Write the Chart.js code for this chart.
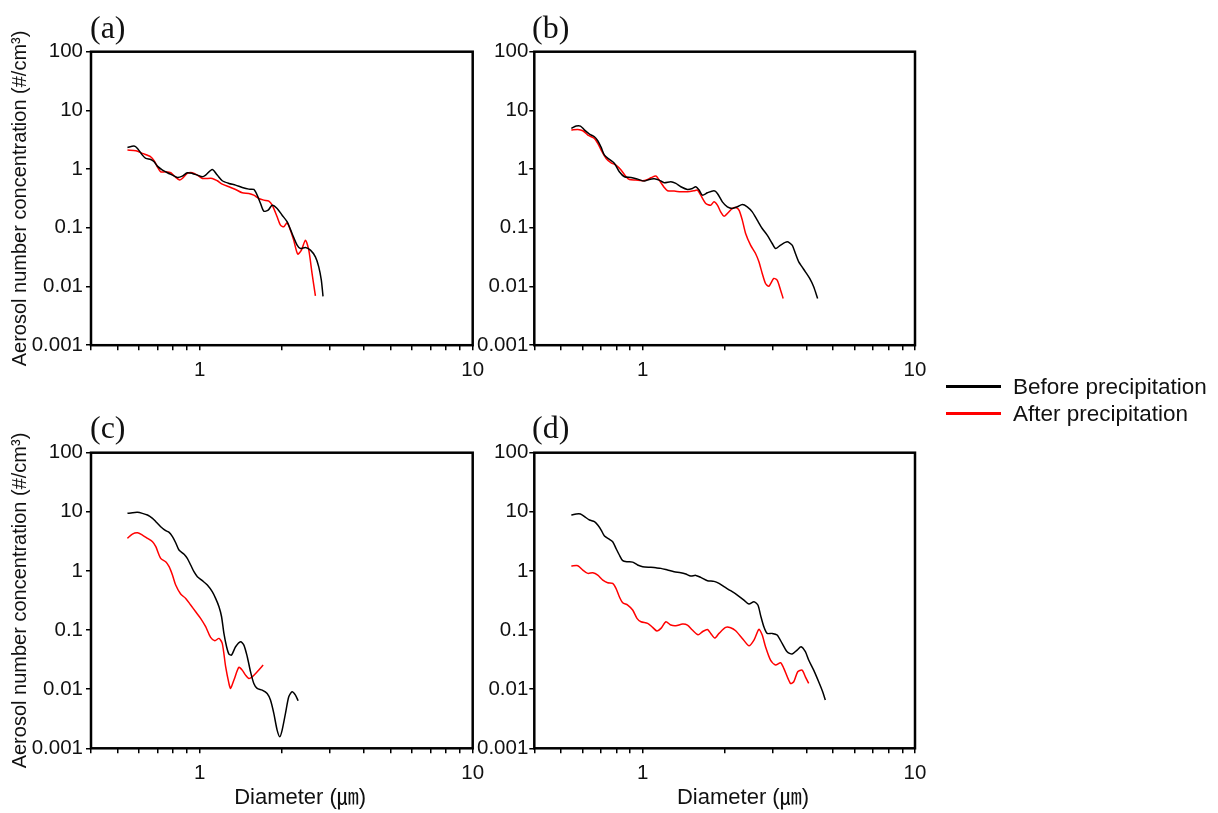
<!DOCTYPE html>
<html><head><meta charset="utf-8">
<script src="https://cdn.jsdelivr.net/npm/chart.js@4.4.1/dist/chart.umd.min.js"></script>
<style>
html,body{margin:0;padding:0;background:#fff;width:1218px;height:813px;overflow:hidden;position:relative}
canvas{position:absolute;left:0;top:0}
.plab{position:absolute;font-family:'Liberation Serif','Times New Roman',serif;font-size:32px;line-height:32px;color:#111;white-space:nowrap}
.legline{position:absolute;width:55px;height:3px}
.legtext{position:absolute;font-family:'Liberation Sans',Arial,sans-serif;font-size:22.5px;line-height:26px;color:#111;white-space:nowrap}
</style></head>
<body>
<canvas id="pa" width="1218" height="813"></canvas>
<canvas id="pb" width="1218" height="813"></canvas>
<canvas id="pc" width="1218" height="813"></canvas>
<canvas id="pd" width="1218" height="813"></canvas>
<div class="plab" style="left:90px;top:11px">(a)</div>
<div class="plab" style="left:532px;top:11px">(b)</div>
<div class="plab" style="left:90px;top:411px">(c)</div>
<div class="plab" style="left:532px;top:411px">(d)</div>
<div class="legline" style="left:946px;top:385px;background:#000"></div>
<div class="legtext" style="left:1013px;top:374px">Before precipitation</div>
<div class="legline" style="left:946px;top:412px;background:#f00"></div>
<div class="legtext" style="left:1013px;top:401px">After precipitation</div>
<script>
// ---- data ----
const seriesNames = ['Before precipitation', 'After precipitation'];
const yTitle = 'Aerosol number concentration (#/cm³)';
const xTitle = 'Diameter (㎛)';
const xTickValues = [0.4,0.5,0.6,0.7,0.8,0.9,1,2,3,4,5,6,7,8,9,10];
const xTickLabels = ['','','','','','','1','','','','','','','','','10'];
const yTickValues = [0.001,0.01,0.1,1,10,100];
const yTickLabels = ['0.001','0.01','0.1','1','10','100'];

const aBeforeX = [0.544,0.575,0.592,0.617,0.635,0.662,0.681,0.700,0.731,0.762,0.795,0.829,0.864,0.901,0.940,0.981,1.023,1.052,1.112,1.16,1.21,1.28,1.354,1.432,1.514,1.579,1.624,1.671,1.718,1.782,1.844,1.922,2.005,2.09,2.18,2.275,2.339,2.44,2.545,2.654,2.73,2.79,2.83];
const aBeforeY = [2.34,2.47,2.25,1.73,1.52,1.46,1.33,1.125,0.962,0.866,0.79,0.721,0.76,0.866,0.844,0.79,0.74,0.79,0.987,0.79,0.633,0.57,0.534,0.487,0.456,0.45,0.36,0.26,0.192,0.2,0.243,0.214,0.164,0.127,0.080,0.0507,0.0444,0.0462,0.0416,0.032,0.0216,0.0128,0.0068];
const aAfterX = [0.544,0.584,0.617,0.662,0.681,0.700,0.72,0.751,0.784,0.813,0.845,0.864,0.901,0.940,0.981,1.023,1.112,1.16,1.21,1.28,1.354,1.432,1.514,1.579,1.647,1.718,1.792,1.844,1.922,1.977,2.033,2.09,2.15,2.21,2.287,2.359,2.44,2.51,2.58,2.654];
const aAfterY = [2.11,2.05,1.85,1.62,1.39,1.096,0.90,0.90,0.866,0.74,0.65,0.693,0.844,0.866,0.79,0.693,0.693,0.633,0.555,0.50,0.45,0.395,0.385,0.36,0.316,0.296,0.285,0.243,0.154,0.111,0.104,0.1217,0.0913,0.0616,0.0356,0.0416,0.0616,0.0416,0.0167,0.0069];

const bBeforeX = [0.547,0.570,0.591,0.612,0.638,0.665,0.684,0.704,0.724,0.755,0.788,0.821,0.857,0.906,0.958,1.014,1.057,1.103,1.15,1.2,1.269,1.324,1.381,1.46,1.523,1.567,1.611,1.657,1.729,1.828,1.881,1.962,2.046,2.134,2.226,2.322,2.421,2.526,2.634,2.748,2.866,2.99,3.075,3.21,3.392,3.538,3.638,3.742,3.848,3.958,4.105,4.246,4.39];
const bBeforeY = [4.93,5.41,5.41,4.62,3.95,3.56,3.04,2.34,1.73,1.46,1.25,0.90,0.74,0.721,0.675,0.624,0.667,0.684,0.65,0.585,0.608,0.57,0.50,0.45,0.468,0.50,0.439,0.36,0.395,0.427,0.385,0.277,0.228,0.214,0.228,0.25,0.228,0.187,0.135,0.0974,0.075,0.054,0.0444,0.0507,0.0577,0.0507,0.0365,0.0263,0.0216,0.0178,0.0137,0.0099,0.00625];
const bAfterX = [0.547,0.578,0.603,0.629,0.665,0.684,0.704,0.734,0.766,0.798,0.833,0.869,0.894,0.945,1.0,1.043,1.072,1.119,1.15,1.2,1.234,1.305,1.381,1.46,1.545,1.589,1.634,1.705,1.778,1.828,1.881,1.934,1.989,2.046,2.134,2.195,2.258,2.322,2.388,2.49,2.597,2.672,2.748,2.826,2.906,3.031,3.117,3.21,3.281];
const bAfterY = [4.62,4.74,4.50,3.80,3.33,2.74,2.11,1.52,1.28,1.17,0.962,0.74,0.667,0.65,0.633,0.667,0.712,0.76,0.65,0.487,0.427,0.422,0.411,0.411,0.427,0.439,0.36,0.26,0.243,0.277,0.243,0.187,0.158,0.175,0.214,0.222,0.2,0.135,0.080,0.0507,0.0365,0.0263,0.0167,0.01125,0.0101,0.0137,0.0128,0.00866,0.00625];

const cBeforeX = [0.544,0.567,0.592,0.617,0.644,0.672,0.691,0.72,0.751,0.773,0.795,0.817,0.84,0.877,0.901,0.927,0.953,0.981,1.023,1.067,1.112,1.144,1.177,1.203,1.227,1.255,1.28,1.309,1.354,1.412,1.452,1.494,1.536,1.579,1.624,1.694,1.767,1.817,1.869,1.922,1.966,2.005,2.062,2.12,2.18,2.243,2.294];
const cBeforeY = [9.42,9.67,9.79,9.42,8.83,7.75,6.81,5.60,4.79,4.49,3.80,3.0,2.26,1.91,1.63,1.26,0.97,0.80,0.684,0.577,0.445,0.343,0.248,0.168,0.0878,0.0522,0.0393,0.0378,0.0522,0.0635,0.0557,0.0354,0.0197,0.0125,0.0103,0.00966,0.00848,0.00654,0.00389,0.00203,0.00157,0.00203,0.00389,0.00745,0.00905,0.00795,0.00637];
const cAfterX = [0.544,0.567,0.592,0.617,0.644,0.672,0.691,0.72,0.751,0.773,0.795,0.817,0.852,0.889,0.927,0.967,1.008,1.052,1.097,1.137,1.177,1.21,1.245,1.28,1.298,1.335,1.392,1.432,1.473,1.514,1.557,1.624,1.708];
const cAfterY = [3.56,4.21,4.44,4.05,3.56,3.12,2.57,1.63,1.43,1.18,0.852,0.577,0.407,0.343,0.265,0.204,0.158,0.114,0.0752,0.066,0.0723,0.0595,0.024,0.0125,0.0103,0.01426,0.0234,0.021,0.0173,0.0152,0.0162,0.0197,0.0256];

const dBeforeX = [0.547,0.570,0.591,0.612,0.638,0.665,0.684,0.704,0.724,0.755,0.776,0.798,0.821,0.845,0.881,0.919,0.958,1.0,1.072,1.119,1.167,1.234,1.305,1.381,1.44,1.502,1.567,1.634,1.729,1.828,1.907,1.989,2.104,2.226,2.354,2.456,2.562,2.649,2.709,2.786,2.866,2.99,3.117,3.252,3.392,3.538,3.69,3.817,3.958,4.07,4.246,4.429,4.581,4.686];
const dBeforeY = [8.83,9.18,9.18,8.27,7.27,6.81,5.98,4.92,3.89,3.42,3.12,2.41,1.86,1.49,1.43,1.41,1.26,1.18,1.15,1.13,1.105,1.036,0.97,0.934,0.886,0.82,0.841,0.778,0.684,0.666,0.616,0.541,0.463,0.391,0.322,0.275,0.302,0.265,0.179,0.114,0.0878,0.0878,0.0823,0.0595,0.043,0.0393,0.0459,0.0522,0.043,0.0311,0.021,0.01336,0.00905,0.00654];
const dAfterX = [0.547,0.578,0.603,0.629,0.656,0.684,0.714,0.744,0.776,0.798,0.821,0.845,0.881,0.919,0.953,0.986,1.043,1.088,1.128,1.167,1.217,1.269,1.324,1.4,1.46,1.523,1.598,1.657,1.729,1.778,1.839,1.907,2.018,2.104,2.195,2.322,2.456,2.562,2.672,2.748,2.826,2.948,3.075,3.21,3.298,3.488,3.587,3.71,3.848,3.958,4.07];
const dAfterY = [1.21,1.226,1.036,0.91,0.934,0.852,0.70,0.632,0.616,0.507,0.366,0.29,0.265,0.218,0.158,0.138,0.13,0.111,0.0962,0.1067,0.138,0.1215,0.1184,0.1263,0.1215,0.1,0.0834,0.0937,0.1026,0.0878,0.0732,0.0878,0.111,0.1095,0.0974,0.0723,0.0543,0.0677,0.1026,0.0823,0.0522,0.0311,0.0256,0.028,0.0225,0.0125,0.01336,0.0197,0.021,0.0162,0.0125];

// ---- drawing ----
const FONT = "'Liberation Sans', Arial, 'Noto Sans CJK KR', sans-serif";
const zip = (xs, ys) => xs.map((x, i) => ({x: x, y: ys[i]}));
const YAXIS_W = 91;

const framePlugin = {
  id: 'frame',
  afterDraw(chart) {
    const {ctx, chartArea: a} = chart;
    ctx.save();
    ctx.strokeStyle = '#000';
    ctx.lineWidth = 2.5;
    ctx.strokeRect(a.left, a.top, a.right - a.left, a.bottom - a.top);
    ctx.restore();
  }
};

function makePanel(id, bx, by, ax, ay, geo) {
  const cv = document.getElementById(id);
  const W = cv.width, H = cv.height;
  new Chart(cv, {
    type: 'line',
    data: {
      datasets: [
        {label: seriesNames[0], data: zip(bx, by), borderColor: '#000', borderWidth: 1.5, pointRadius: 0, tension: 0.25, fill: false},
        {label: seriesNames[1], data: zip(ax, ay), borderColor: '#f00', borderWidth: 1.5, pointRadius: 0, tension: 0.25, fill: false}
      ]
    },
    options: {
      responsive: false,
      animation: false,
      devicePixelRatio: 1,
      events: [],
      layout: {padding: {left: geo.l - YAXIS_W, top: geo.t, right: W - geo.r, bottom: H - geo.b - geo.xh}},
      plugins: {legend: {display: false}, tooltip: {enabled: false}},
      scales: {
        x: {
          type: 'logarithmic', min: 0.4, max: 10,
          afterBuildTicks: s => { s.ticks = xTickValues.map(v => ({value: v})); },
          afterFit: s => { s.height = geo.xh; s.paddingLeft = 0; s.paddingRight = 0; },
          ticks: {autoSkip: false, maxRotation: 0, minRotation: 0, padding: 8, color: '#111',
                  font: {family: FONT, size: 20.5}, callback: (v, i) => xTickLabels[i]},
          grid: {display: true, drawOnChartArea: false, drawTicks: true, tickLength: 5, color: '#000', lineWidth: 1.5},
          border: {display: false},
          title: {display: geo.xTitle, text: '      ' + xTitle, color: '#111',
                  font: {family: FONT, size: 22}, padding: {top: 0, bottom: 1.4}}
        },
        y: {
          type: 'logarithmic', min: 0.001, max: 100,
          afterBuildTicks: s => { s.ticks = yTickValues.map(v => ({value: v})); },
          afterFit: s => { s.width = YAXIS_W; s.paddingTop = 0; s.paddingBottom = 0; },
          ticks: {autoSkip: false, padding: geo.yPad, color: '#111',
                  font: {family: FONT, size: 20.5}, callback: (v, i) => yTickLabels[i]},
          grid: {display: true, drawOnChartArea: false, drawTicks: true, tickLength: 5, color: '#000', lineWidth: 1.5},
          border: {display: false},
          title: {display: geo.yTitle, text: yTitle, color: '#111',
                  font: {family: FONT, size: 20}, padding: {top: 8.5, bottom: 0}}
        }
      }
    },
    plugins: [framePlugin]
  });
}

makePanel('pa', aBeforeX, aBeforeY, aAfterX, aAfterY, {l: 91, t: 51.7, r: 472.7, b: 345.2, xh: 45, yTitle: true, xTitle: false, yPad: 3});
makePanel('pb', bBeforeX, bBeforeY, bAfterX, bAfterY, {l: 534.3, t: 51.7, r: 915, b: 345.2, xh: 45, yTitle: false, xTitle: false, yPad: 1});
makePanel('pc', cBeforeX, cBeforeY, cAfterX, cAfterY, {l: 91, t: 452.7, r: 472.7, b: 748.3, xh: 64.7, yTitle: true, xTitle: true, yPad: 3});
makePanel('pd', dBeforeX, dBeforeY, dAfterX, dAfterY, {l: 534.3, t: 452.7, r: 915, b: 748.3, xh: 64.7, yTitle: false, xTitle: true, yPad: 1});
</script>
</body></html>
